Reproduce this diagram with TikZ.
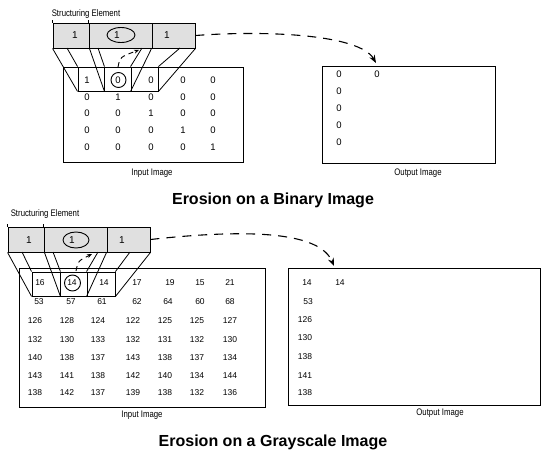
\documentclass[tikz,border=0pt]{standalone}
\usepackage{fontspec}
\setmainfont{Liberation Sans}
\newfontfamily\narrowfont[FakeStretch=0.82]{Liberation Sans}
\usetikzlibrary{arrows.meta,shapes.geometric}
\begin{document}
\begin{tikzpicture}[x=1pt,y=-1pt,
  box/.style={draw, line width=0.9pt, rectangle, inner sep=0pt},
  secell/.style={box, fill=black!12},
  wcell/.style={box},
  num/.style={font=\fontsize{9.5}{9.5}\selectfont, inner sep=0pt},
  snum/.style={font=\fontsize{8.5}{8.5}\selectfont, inner sep=0pt},
  senum/.style={font=\fontsize{10}{10}\selectfont, inner sep=0pt},
  lab/.style={font=\narrowfont\fontsize{9.5}{9.5}\selectfont, inner sep=0pt},
  ttl/.style={font=\bfseries\fontsize{16}{16}\selectfont, inner sep=0pt},
  ring/.style={draw, ellipse, line width=0.9pt, inner sep=0pt},
  proj/.style={line width=0.8pt},
  bigarrow/.style={line width=1.1pt, dash pattern=on 9pt off 7pt, -{Stealth[length=8pt,width=6pt]}},
  smallarrow/.style={line width=0.9pt, dash pattern=on 5pt off 4pt, -{Stealth[length=5pt,width=4pt]}}
]
\useasboundingbox (0,0) rectangle (550,453);
\fill[white] (0,0) rectangle (550,453);

% ================= TOP: binary =================
\node[lab] (selabA) at (86,14) {Structuring Element};
\node[secell, minimum width=36pt, minimum height=25pt] (seA) at (71,35.5) {};
\node[secell, minimum width=63pt, minimum height=25pt] (seB) at (120.5,35.5) {};
\node[secell, minimum width=43pt, minimum height=25pt] (seC) at (173.5,35.5) {};
\draw[line width=0.9pt] (seA.north west) -- ++(0,-3);
\draw[line width=0.9pt] (seB.north west) -- ++(0,-3);
\node[senum] (seAt) at (75,35) {1};
\node[senum] (seBt) at (117,35) {1};
\node[senum] (seCt) at (167,35) {1};
\node[ring, minimum width=28pt, minimum height=15pt] (ringA) at (121,35) {};

\node[box, minimum width=180pt, minimum height=95pt] (inA) at (153,114.5) {};
\node[wcell, minimum width=26pt, minimum height=24pt] (wA) at (91,79) {};
\node[wcell, minimum width=27pt, minimum height=24pt] (wB) at (117.5,79) {};
\node[wcell, minimum width=27pt, minimum height=24pt] (wC) at (144.5,79) {};

\coordinate (pA1) at (67,48);
\coordinate (pA2) at (98,48);
\coordinate (pA3) at (142,48);
\coordinate (pA4) at (180,48);
\draw[proj] (seA.south west) -- (wA.south west);
\draw[proj] (pA1) -- (wA.north west);
\draw[proj] (seA.south east) -- (wA.south east);
\draw[proj] (pA2) -- (wA.north east);
\draw[proj] (seC.south west) -- (wC.south west);
\draw[proj] (pA3) -- (wC.north west);
\draw[proj] (seC.south east) -- (wC.south east);
\draw[proj] (pA4) -- (wC.north east);

\foreach \v/\x [count=\c] in {1/87,0/118,0/151,0/183,0/213} \node[num] (ia1\c) at (\x,80) {\v};
\foreach \v/\x [count=\c] in {0/87,1/118,0/151,0/183,0/213} \node[num] (ia2\c) at (\x,97) {\v};
\foreach \v/\x [count=\c] in {0/87,0/118,1/151,0/183,0/213} \node[num] (ia3\c) at (\x,113) {\v};
\foreach \v/\x [count=\c] in {0/87,0/118,0/151,1/183,0/213} \node[num] (ia4\c) at (\x,130) {\v};
\foreach \v/\x [count=\c] in {0/87,0/118,0/151,0/183,1/213} \node[num] (ia5\c) at (\x,147) {\v};
\node[ring, minimum width=15pt, minimum height=15pt] (ringWA) at (118.5,80) {};

\coordinate (saA1) at (118,67);
\coordinate (saA2) at (139,50);
\draw[smallarrow] (saA1) .. controls (120,57) .. (saA2);

\node[box, minimum width=173pt, minimum height=97pt] (outA) at (408.5,114.5) {};
\node[num] (oa1) at (339,74) {0};
\node[num] (oa2) at (377,74) {0};
\node[num] (oa3) at (339,91) {0};
\node[num] (oa4) at (339,108) {0};
\node[num] (oa5) at (339,125) {0};
\node[num] (oa6) at (339,142) {0};

\coordinate (arrA) at (376,63);
\draw[bigarrow] (seC.east) .. controls (270,30) and (360,35) .. (arrA);

\node[lab] (inlabA) at (152,173) {Input Image};
\node[lab] (outlabA) at (418,173) {Output Image};
\node[ttl] (ttlA) at (273,200) {Erosion on a Binary Image};

% ================= BOTTOM: grayscale =================
\node[lab] (selabB) at (45,214) {Structuring Element};
\node[secell, minimum width=36pt, minimum height=25pt] (seD) at (26,239.5) {};
\node[secell, minimum width=63pt, minimum height=25pt] (seE) at (75.5,239.5) {};
\node[secell, minimum width=43pt, minimum height=25pt] (seF) at (128.5,239.5) {};
\draw[line width=0.9pt] (seD.north west) -- ++(0,-3);
\draw[line width=0.9pt] (seE.north west) -- ++(0,-3);
\node[senum] (seDt) at (29,240) {1};
\node[senum] (seEt) at (72,240) {1};
\node[senum] (seFt) at (122,240) {1};
\node[ring, minimum width=26pt, minimum height=16pt] (ringB) at (76,240) {};

\node[box, minimum width=246pt, minimum height=139pt] (inB) at (142,337.5) {};
\node[wcell, minimum width=28pt, minimum height=24pt] (wD) at (46,284) {};
\node[wcell, minimum width=27pt, minimum height=24pt] (wE) at (73.5,284) {};
\node[wcell, minimum width=28pt, minimum height=24pt] (wF) at (101,284) {};

\coordinate (pB1) at (22,252);
\coordinate (pB2) at (53,252);
\coordinate (pB3) at (98,252);
\coordinate (pB4) at (130,252);
\draw[proj] (seD.south west) -- (wD.south west);
\draw[proj] (pB1) -- (wD.north west);
\draw[proj] (seD.south east) -- (wD.south east);
\draw[proj] (pB2) -- (wD.north east);
\draw[proj] (seF.south west) -- (wF.south west);
\draw[proj] (pB3) -- (wF.north west);
\draw[proj] (seF.south east) -- (wF.south east);
\draw[proj] (pB4) -- (wF.north east);

\foreach \v/\x [count=\c] in {16/40,14/72,14/104,17/137,19/170,15/200,21/230} \node[snum] (ib1\c) at (\x,283) {\v};
\foreach \v/\x [count=\c] in {53/39,57/71,61/102,62/137,64/168,60/200,68/230} \node[snum] (ib2\c) at (\x,302) {\v};
\foreach \v/\x [count=\c] in {126/35,128/67,124/98,122/133,125/165,125/197,127/230} \node[snum] (ib3\c) at (\x,321) {\v};
\foreach \v/\x [count=\c] in {132/35,130/67,133/98,132/133,131/165,132/197,130/230} \node[snum] (ib4\c) at (\x,340) {\v};
\foreach \v/\x [count=\c] in {140/35,138/67,137/98,143/133,138/165,137/197,134/230} \node[snum] (ib5\c) at (\x,358) {\v};
\foreach \v/\x [count=\c] in {143/35,141/67,138/98,142/133,140/165,134/197,144/230} \node[snum] (ib6\c) at (\x,376) {\v};
\foreach \v/\x [count=\c] in {138/35,142/67,137/98,139/133,138/165,132/197,136/230} \node[snum] (ib7\c) at (\x,393) {\v};
\node[ring, minimum width=16pt, minimum height=16pt] (ringWB) at (72.5,283) {};

\coordinate (saB1) at (76,271);
\coordinate (saB2) at (92,254);
\draw[smallarrow] (saB1) .. controls (78,261) .. (saB2);

\node[box, minimum width=252pt, minimum height=137pt] (outB) at (414,336.5) {};
\node[snum] (ob1) at (307,283) {14};
\node[snum] (ob2) at (340,283) {14};
\node[snum] (ob3) at (308,302) {53};
\node[snum] (ob4) at (305,320) {126};
\node[snum] (ob5) at (305,338) {130};
\node[snum] (ob6) at (305,357) {138};
\node[snum] (ob7) at (305,376) {141};
\node[snum] (ob8) at (305,393) {138};

\coordinate (arrB) at (334,266);
\draw[bigarrow] (seF.east) .. controls (255,228) and (320,233) .. (arrB);

\node[lab] (inlabB) at (142,415) {Input Image};
\node[lab] (outlabB) at (440,413) {Output Image};
\node[ttl] (ttlB) at (273,442) {Erosion on a Grayscale Image};
\end{tikzpicture}
\end{document}
